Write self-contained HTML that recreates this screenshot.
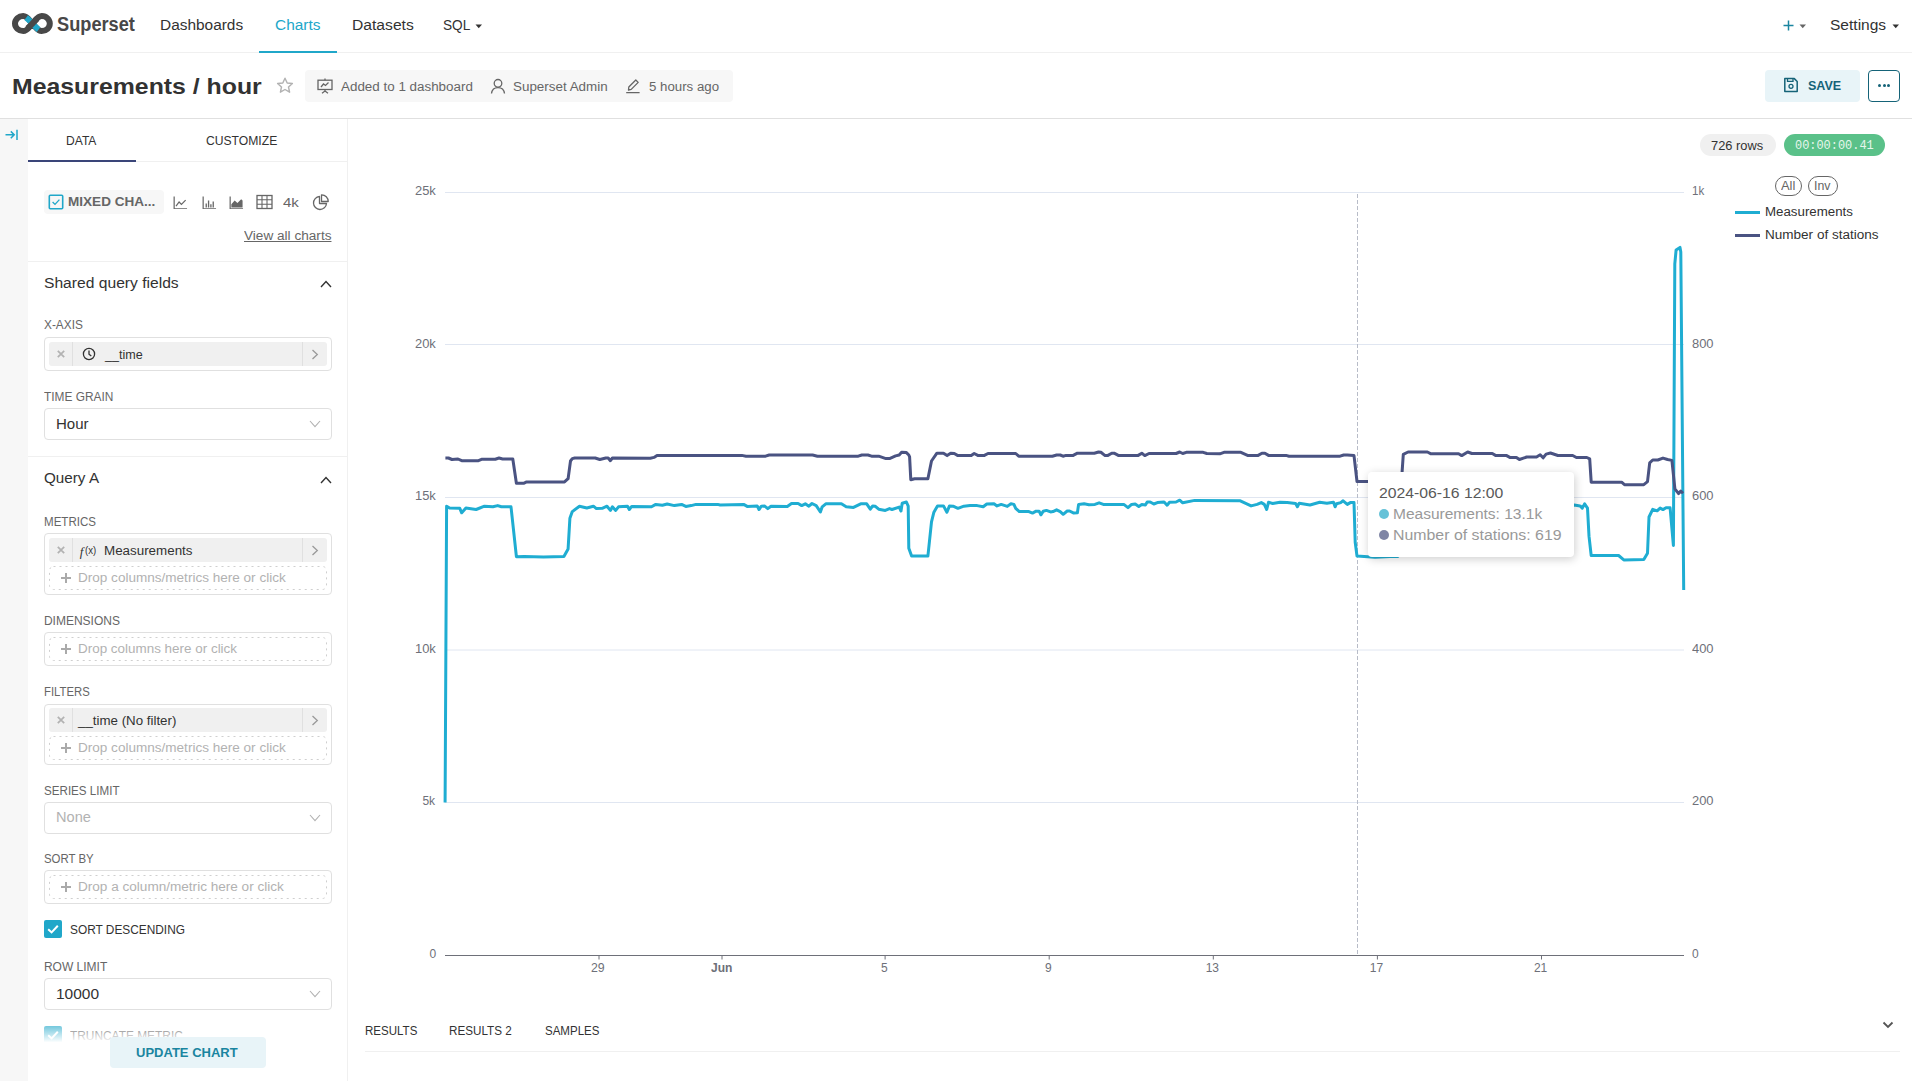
<!DOCTYPE html>
<html><head><meta charset="utf-8"><style>
html,body{margin:0;padding:0;background:#fff;width:1912px;height:1081px;overflow:hidden;position:relative}
.t{position:absolute;white-space:nowrap;font-family:"Liberation Sans",sans-serif}
.r{position:absolute}
</style></head><body>
<div class="r" style="left:0px;top:52px;width:1912px;height:1px;background:#f0f0f0"></div>
<svg class="r" style="left:0;top:0" width="60" height="40" viewBox="0 0 60 40">
<path d="M32.4 23.6 C29.6 20.6 27 16.1 23.2 16.1 C18.6 16.1 15 19.5 15 23.6 C15 27.7 18.6 31.1 23.2 31.1 C27 31.1 29.6 26.6 32.4 23.6 C35.2 20.6 37.8 16.1 41.8 16.1 C46.4 16.1 49.8 19.5 49.8 23.6 C49.8 27.7 46.4 31.1 41.8 31.1 C37.8 31.1 35.2 26.6 32.4 23.6 Z" fill="none" stroke="#484848" stroke-width="6"/>
<path d="M26.2 17.6 C28.6 19.4 30.4 21.4 32.4 23.6 C34.4 25.8 36.2 27.8 38.6 29.6" fill="none" stroke="#20a7c9" stroke-width="6"/>
<path d="M27.6 28.4 C29.4 26.6 30.8 25.1 32.4 23.6 C34 21.8 35.4 20.3 37.2 18.6" fill="none" stroke="#484848" stroke-width="6"/>
</svg>
<div class="t" style="left:57.1px;top:14.0px;font-size:20px;line-height:20px;color:#484848;font-weight:700;letter-spacing:0.00px;font-family:'Liberation Sans', sans-serif;transform:scaleX(0.9105);transform-origin:0 0;">Superset</div>
<div class="t" style="left:159.8px;top:18.3px;font-size:14px;line-height:14px;color:#323232;font-weight:400;letter-spacing:0.00px;font-family:'Liberation Sans', sans-serif;transform:scaleX(1.1013);transform-origin:0 0;">Dashboards</div>
<div class="t" style="left:274.8px;top:18.3px;font-size:14px;line-height:14px;color:#20a7c9;font-weight:400;letter-spacing:0.00px;font-family:'Liberation Sans', sans-serif;transform:scaleX(1.1024);transform-origin:0 0;">Charts</div>
<div class="r" style="left:259px;top:51px;width:78px;height:2px;background:#20a7c9"></div>
<div class="t" style="left:352.4px;top:18.3px;font-size:14px;line-height:14px;color:#323232;font-weight:400;letter-spacing:0.00px;font-family:'Liberation Sans', sans-serif;transform:scaleX(1.1182);transform-origin:0 0;">Datasets</div>
<div class="t" style="left:442.8px;top:18.3px;font-size:14px;line-height:14px;color:#323232;font-weight:400;letter-spacing:0.00px;font-family:'Liberation Sans', sans-serif;transform:scaleX(0.9750);transform-origin:0 0;">SQL</div>
<svg class="r" style="left:475px;top:24px" width="8" height="5"><path d="M0.5 0.5 L7 0.5 L3.75 4.2 Z" fill="#323232"/></svg>
<svg class="r" style="left:1783px;top:20px" width="11" height="11"><path d="M5.5 0.5 V10.5 M0.5 5.5 H10.5" stroke="#1a85a0" stroke-width="1.5"/></svg>
<svg class="r" style="left:1799px;top:24px" width="8" height="5"><path d="M0.5 0.5 L7 0.5 L3.75 4.2 Z" fill="#666"/></svg>
<div class="t" style="left:1830.1px;top:18.3px;font-size:14px;line-height:14px;color:#323232;font-weight:400;letter-spacing:0.00px;font-family:'Liberation Sans', sans-serif;transform:scaleX(1.1098);transform-origin:0 0;">Settings</div>
<svg class="r" style="left:1892px;top:24px" width="8" height="5"><path d="M0.5 0.5 L7 0.5 L3.75 4.2 Z" fill="#323232"/></svg>
<div class="r" style="left:0px;top:118px;width:1912px;height:1px;background:#e0e0e0"></div>
<div class="t" style="left:12.4px;top:76.3px;font-size:22px;line-height:22px;color:#323232;font-weight:700;letter-spacing:0.00px;font-family:'Liberation Sans', sans-serif;transform:scaleX(1.1288);transform-origin:0 0;">Measurements / hour</div>
<svg class="r" style="left:276px;top:77px" width="18" height="17" viewBox="0 0 18 17"><path d="M9 1.2 L11.2 6 L16.4 6.5 L12.5 10 L13.6 15.2 L9 12.5 L4.4 15.2 L5.5 10 L1.6 6.5 L6.8 6 Z" fill="none" stroke="#b2b2b2" stroke-width="1.4" stroke-linejoin="round"/></svg>
<div class="r" style="left:305px;top:70px;width:428px;height:32px;background:#f7f7f7;border-radius:4px"></div>
<svg class="r" style="left:317px;top:78px" width="16" height="16" viewBox="0 0 16 16"><rect x="1" y="2.2" width="14" height="9.3" fill="none" stroke="#666" stroke-width="1.3"/><path d="M8 0.5 V2.2 M8 11.5 V13 M5 15.3 L8 13 L11 15.3 M4 9 L6.5 6 L8.5 7.5 L11.5 4.5" fill="none" stroke="#666" stroke-width="1.3"/></svg>
<div class="t" style="left:340.8px;top:80.7px;font-size:12px;line-height:12px;color:#666666;font-weight:400;letter-spacing:0.00px;font-family:'Liberation Sans', sans-serif;transform:scaleX(1.1169);transform-origin:0 0;">Added to 1 dashboard</div>
<svg class="r" style="left:490px;top:78px" width="16" height="16" viewBox="0 0 16 16"><circle cx="8" cy="5.3" r="3.8" fill="none" stroke="#666" stroke-width="1.3"/><path d="M1.5 15.5 C2 11.5 4.5 9.6 8 9.6 C11.5 9.6 14 11.5 14.5 15.5" fill="none" stroke="#666" stroke-width="1.3"/></svg>
<div class="t" style="left:513.4px;top:80.7px;font-size:12px;line-height:12px;color:#666666;font-weight:400;letter-spacing:0.00px;font-family:'Liberation Sans', sans-serif;transform:scaleX(1.1176);transform-origin:0 0;">Superset Admin</div>
<svg class="r" style="left:625px;top:78px" width="16" height="16" viewBox="0 0 16 16"><path d="M3.5 12 L3.8 9 L10.8 2 L13.2 4.4 L6.2 11.4 Z M1.2 14.6 H14.6" fill="none" stroke="#666" stroke-width="1.3" stroke-linejoin="round"/></svg>
<div class="t" style="left:649.0px;top:80.7px;font-size:12px;line-height:12px;color:#666666;font-weight:400;letter-spacing:0.00px;font-family:'Liberation Sans', sans-serif;transform:scaleX(1.1047);transform-origin:0 0;">5 hours ago</div>
<div class="r" style="left:1765px;top:70px;width:95px;height:32px;background:#e8f4f8;border-radius:4px"></div>
<svg class="r" style="left:1783px;top:77px" width="16" height="16" viewBox="0 0 16 16"><path d="M1.8 1.6 H11.3 L14.2 4.5 V14.4 H1.8 Z" fill="none" stroke="#156378" stroke-width="1.5" stroke-linejoin="round"/><path d="M4.5 1.6 V4.3 H10 V1.6" fill="none" stroke="#156378" stroke-width="1.3"/><circle cx="8" cy="9.3" r="2" fill="none" stroke="#156378" stroke-width="1.3"/></svg>
<div class="t" style="left:1807.5px;top:79.7px;font-size:12px;line-height:12px;color:#156378;font-weight:700;letter-spacing:0.00px;font-family:'Liberation Sans', sans-serif;transform:scaleX(1.0437);transform-origin:0 0;">SAVE</div>
<div class="r" style="left:1868px;top:70px;width:32px;height:32px;border:1px solid #156378;border-radius:4px;box-sizing:border-box"></div>
<div class="r" style="left:1877.7px;top:84.4px;width:3px;height:3px;border-radius:50%;background:#156378"></div>
<div class="r" style="left:1882.5px;top:84.4px;width:3px;height:3px;border-radius:50%;background:#156378"></div>
<div class="r" style="left:1887.4px;top:84.4px;width:3px;height:3px;border-radius:50%;background:#156378"></div>
<div class="r" style="left:0px;top:119px;width:28px;height:962px;background:#f7f7f7"></div>
<svg class="r" style="left:5px;top:129px" width="14" height="12" viewBox="0 0 14 12"><path d="M0.5 5.8 H9 M5.8 2.4 L9.2 5.8 L5.8 9.2 M12 0.8 V11" fill="none" stroke="#20a7c9" stroke-width="1.5"/></svg>
<div class="r" style="left:347px;top:119px;width:1px;height:962px;background:#f0f0f0"></div>
<div class="t" style="left:66.2px;top:135.0px;font-size:12px;line-height:12px;color:#323232;font-weight:400;letter-spacing:0.00px;font-family:'Liberation Sans', sans-serif;transform:scaleX(1.0067);transform-origin:0 0;">DATA</div>
<div class="t" style="left:205.9px;top:135.0px;font-size:12px;line-height:12px;color:#323232;font-weight:400;letter-spacing:0.00px;font-family:'Liberation Sans', sans-serif;transform:scaleX(1.0114);transform-origin:0 0;">CUSTOMIZE</div>
<div class="r" style="left:28px;top:161px;width:319px;height:1px;background:#f0f0f0"></div>
<div class="r" style="left:28px;top:160px;width:108px;height:2px;background:#3a4579"></div>
<div class="r" style="left:44px;top:190px;width:120px;height:24px;background:#f7f7f7;border-radius:4px"></div>
<svg class="r" style="left:48px;top:194px" width="16" height="16" viewBox="0 0 16 16"><rect x="1.3" y="1.3" width="13.4" height="13.4" rx="1" fill="none" stroke="#20a7c9" stroke-width="1.6"/><path d="M4.6 8 L7 10.4 L11.4 5.6" fill="none" stroke="#20a7c9" stroke-width="1.3"/></svg>
<div class="t" style="left:68.0px;top:195.8px;font-size:12px;line-height:12px;color:#666666;font-weight:700;letter-spacing:0.00px;font-family:'Liberation Sans', sans-serif;transform:scaleX(1.1299);transform-origin:0 0;">MIXED CHA...</div>
<svg class="r" style="left:172.5px;top:195px" width="15" height="14" viewBox="0 0 16 15"><path d="M1.2 1.5 V14.8 H15 M3.2 12 L6.5 7.5 L9 10 L13.5 5.5" fill="none" stroke="#666" stroke-width="1.3"/></svg>
<svg class="r" style="left:201.5px;top:195px" width="15" height="14" viewBox="0 0 16 15"><path d="M1.2 1.5 V14.8 H15" fill="none" stroke="#666" stroke-width="1.3"/><path d="M4.5 9 V13.5 M7 6 V13.5 M9.5 10 V13.5 M12 7 V13.5" stroke="#666" stroke-width="1.4"/></svg>
<svg class="r" style="left:228.5px;top:195px" width="15" height="14" viewBox="0 0 16 15"><path d="M1.2 1.5 V14.8 H15" fill="none" stroke="#666" stroke-width="1.3"/><path d="M2.5 13.5 V10 L6 6 L9 8.5 L13 4.5 L14.5 6 V13.5 Z" fill="#666"/></svg>
<svg class="r" style="left:256px;top:194px" width="17" height="16" viewBox="0 0 17 16"><rect x="1" y="1.5" width="15" height="13" fill="none" stroke="#666" stroke-width="1.3"/><path d="M1 5.8 H16 M1 10.2 H16 M6 1.5 V14.5 M11 1.5 V14.5" stroke="#666" stroke-width="1.1"/></svg>
<div class="t" style="left:283.4px;top:195.8px;font-size:13px;line-height:13px;color:#666666;font-weight:400;letter-spacing:0.00px;font-family:'Liberation Sans', sans-serif;transform:scaleX(1.1571);transform-origin:0 0;">4k</div>
<svg class="r" style="left:312px;top:194px" width="17" height="17" viewBox="0 0 17 17"><path d="M7.5 2.5 A6.5 6.5 0 1 0 14.5 9.5 H7.5 Z" fill="none" stroke="#666" stroke-width="1.3" stroke-linejoin="round"/><path d="M9.5 0.8 A6.5 6.5 0 0 1 16.2 7.5 H9.5 Z" fill="none" stroke="#666" stroke-width="1.3" stroke-linejoin="round"/></svg>
<div class="t" style="left:243.8px;top:230.2px;font-size:12px;line-height:12px;color:#666666;font-weight:400;letter-spacing:0.00px;font-family:'Liberation Sans', sans-serif;transform:scaleX(1.1338);transform-origin:0 0;text-decoration:underline;text-underline-offset:1px">View all charts</div>
<div class="r" style="left:28px;top:261px;width:319px;height:1px;background:#f0f0f0"></div>
<div class="t" style="left:43.7px;top:276.1px;font-size:14px;line-height:14px;color:#323232;font-weight:400;letter-spacing:0.00px;font-family:'Liberation Sans', sans-serif;transform:scaleX(1.1165);transform-origin:0 0;">Shared query fields</div>
<svg class="r" style="left:320px;top:280px" width="12" height="8" viewBox="0 0 12 8"><path d="M1 7 L6 1.6 L11 7" fill="none" stroke="#323232" stroke-width="1.4"/></svg>
<div class="t" style="left:43.9px;top:319.4px;font-size:12px;line-height:12px;color:#666666;font-weight:400;letter-spacing:0.00px;font-family:'Liberation Sans', sans-serif;transform:scaleX(0.9872);transform-origin:0 0;">X-AXIS</div>
<div class="r" style="left:44px;top:337px;width:288px;height:34px;border:1px solid #e0e0e0;border-radius:4px;box-sizing:border-box;background:#fff"></div>
<div class="r" style="left:49px;top:342px;width:278px;height:24px;background:#f0f0f0;border-radius:3px"></div>
<div class="r" style="left:72px;top:342px;width:1px;height:24px;background:#e0e0e0"></div>
<div class="r" style="left:302px;top:342px;width:1px;height:24px;background:#e0e0e0"></div>
<svg class="r" style="left:56px;top:349.0px" width="10" height="10" viewBox="0 0 10 10"><path d="M1.8 1.8 L8.2 8.2 M8.2 1.8 L1.8 8.2" stroke="#b2b2b2" stroke-width="1.7"/></svg>
<svg class="r" style="left:311px;top:348.5px" width="8" height="11" viewBox="0 0 8 11"><path d="M1.5 1 L6.3 5.5 L1.5 10" fill="none" stroke="#999" stroke-width="1.3"/></svg>
<div class="t" style="left:105.4px;top:348.8px;font-size:12px;line-height:12px;color:#323232;font-weight:400;letter-spacing:0.00px;font-family:'Liberation Sans', sans-serif;transform:scaleX(1.0459);transform-origin:0 0;">__time</div>
<svg class="r" style="left:82px;top:347px" width="14" height="14" viewBox="0 0 14 14"><circle cx="7" cy="7" r="5.6" fill="none" stroke="#323232" stroke-width="1.3"/><path d="M7 3.6 V7.2 L9.3 9" fill="none" stroke="#323232" stroke-width="1.3"/></svg>
<div class="t" style="left:43.9px;top:391.2px;font-size:12px;line-height:12px;color:#666666;font-weight:400;letter-spacing:0.00px;font-family:'Liberation Sans', sans-serif;transform:scaleX(0.9914);transform-origin:0 0;">TIME GRAIN</div>
<div class="r" style="left:44px;top:408px;width:288px;height:32px;border:1px solid #e0e0e0;border-radius:4px;box-sizing:border-box;background:#fff"></div>
<div class="t" style="left:55.8px;top:417.2px;font-size:14px;line-height:14px;color:#323232;font-weight:400;letter-spacing:0.00px;font-family:'Liberation Sans', sans-serif;transform:scaleX(1.0742);transform-origin:0 0;">Hour</div>
<svg class="r" style="left:309px;top:420px" width="12" height="8" viewBox="0 0 12 8"><path d="M1 1 L6 6.6 L11 1" fill="none" stroke="#b2b2b2" stroke-width="1.1"/></svg>
<div class="r" style="left:28px;top:456px;width:319px;height:1px;background:#f0f0f0"></div>
<div class="t" style="left:43.8px;top:471.2px;font-size:14px;line-height:14px;color:#323232;font-weight:400;letter-spacing:0.00px;font-family:'Liberation Sans', sans-serif;transform:scaleX(1.0882);transform-origin:0 0;">Query A</div>
<svg class="r" style="left:320px;top:476px" width="12" height="8" viewBox="0 0 12 8"><path d="M1 7 L6 1.6 L11 7" fill="none" stroke="#323232" stroke-width="1.4"/></svg>
<div class="t" style="left:43.9px;top:515.7px;font-size:12px;line-height:12px;color:#666666;font-weight:400;letter-spacing:0.00px;font-family:'Liberation Sans', sans-serif;transform:scaleX(0.9630);transform-origin:0 0;">METRICS</div>
<div class="r" style="left:44px;top:533px;width:288px;height:62px;border:1px solid #e0e0e0;border-radius:4px;box-sizing:border-box;background:#fff"></div>
<div class="r" style="left:49px;top:538px;width:278px;height:24px;background:#f0f0f0;border-radius:3px"></div>
<div class="r" style="left:72px;top:538px;width:1px;height:24px;background:#e0e0e0"></div>
<div class="r" style="left:302px;top:538px;width:1px;height:24px;background:#e0e0e0"></div>
<svg class="r" style="left:56px;top:545.0px" width="10" height="10" viewBox="0 0 10 10"><path d="M1.8 1.8 L8.2 8.2 M8.2 1.8 L1.8 8.2" stroke="#b2b2b2" stroke-width="1.7"/></svg>
<svg class="r" style="left:311px;top:544.5px" width="8" height="11" viewBox="0 0 8 11"><path d="M1.5 1 L6.3 5.5 L1.5 10" fill="none" stroke="#999" stroke-width="1.3"/></svg>
<div class="t" style="left:104.4px;top:544.8px;font-size:12px;line-height:12px;color:#323232;font-weight:400;letter-spacing:0.00px;font-family:'Liberation Sans', sans-serif;transform:scaleX(1.1152);transform-origin:0 0;">Measurements</div>
<div class="t" style="left:79.7px;top:544.5px;font-size:13px;line-height:13px;color:#323232;font-weight:400;letter-spacing:0.00px;font-family:'Liberation Serif', serif;font-style:italic">f</div>
<div class="t" style="left:84.9px;top:545.5px;font-size:10px;line-height:10px;color:#323232;font-weight:400;letter-spacing:0.00px;font-family:'Liberation Sans', sans-serif;transform:scaleX(0.9583);transform-origin:0 0;">(x)</div>
<svg class="r" style="left:49px;top:566px" width="278" height="24"><rect x="0.5" y="0.5" width="277" height="23" rx="4" fill="none" stroke="#cfcfcf" stroke-width="1" stroke-dasharray="2 4"/></svg>
<svg class="r" style="left:60px;top:572px" width="12" height="12" viewBox="0 0 12 12"><path d="M6 1 V11 M1 6 H11" stroke="#aaa" stroke-width="2"/></svg>
<div class="t" style="left:77.7px;top:572.4px;font-size:12px;line-height:12px;color:#b2b2b2;font-weight:400;letter-spacing:0.00px;font-family:'Liberation Sans', sans-serif;transform:scaleX(1.1286);transform-origin:0 0;">Drop columns/metrics here or click</div>
<div class="t" style="left:43.9px;top:614.7px;font-size:12px;line-height:12px;color:#666666;font-weight:400;letter-spacing:0.00px;font-family:'Liberation Sans', sans-serif;">DIMENSIONS</div>
<div class="r" style="left:44px;top:632px;width:288px;height:34px;border:1px solid #e0e0e0;border-radius:4px;box-sizing:border-box;background:#fff"></div>
<svg class="r" style="left:49px;top:637px" width="278" height="24"><rect x="0.5" y="0.5" width="277" height="23" rx="4" fill="none" stroke="#cfcfcf" stroke-width="1" stroke-dasharray="2 4"/></svg>
<svg class="r" style="left:60px;top:643px" width="12" height="12" viewBox="0 0 12 12"><path d="M6 1 V11 M1 6 H11" stroke="#aaa" stroke-width="2"/></svg>
<div class="t" style="left:77.7px;top:643.4px;font-size:12px;line-height:12px;color:#b2b2b2;font-weight:400;letter-spacing:0.00px;font-family:'Liberation Sans', sans-serif;transform:scaleX(1.1196);transform-origin:0 0;">Drop columns here or click</div>
<div class="t" style="left:43.9px;top:685.8px;font-size:12px;line-height:12px;color:#666666;font-weight:400;letter-spacing:0.00px;font-family:'Liberation Sans', sans-serif;transform:scaleX(0.9437);transform-origin:0 0;">FILTERS</div>
<div class="r" style="left:44px;top:704px;width:288px;height:61px;border:1px solid #e0e0e0;border-radius:4px;box-sizing:border-box;background:#fff"></div>
<div class="r" style="left:49px;top:708px;width:278px;height:24px;background:#f0f0f0;border-radius:3px"></div>
<div class="r" style="left:72px;top:708px;width:1px;height:24px;background:#e0e0e0"></div>
<div class="r" style="left:302px;top:708px;width:1px;height:24px;background:#e0e0e0"></div>
<svg class="r" style="left:56px;top:715.0px" width="10" height="10" viewBox="0 0 10 10"><path d="M1.8 1.8 L8.2 8.2 M8.2 1.8 L1.8 8.2" stroke="#b2b2b2" stroke-width="1.7"/></svg>
<svg class="r" style="left:311px;top:714.5px" width="8" height="11" viewBox="0 0 8 11"><path d="M1.5 1 L6.3 5.5 L1.5 10" fill="none" stroke="#999" stroke-width="1.3"/></svg>
<div class="t" style="left:77.7px;top:714.8px;font-size:12px;line-height:12px;color:#323232;font-weight:400;letter-spacing:0.00px;font-family:'Liberation Sans', sans-serif;transform:scaleX(1.1089);transform-origin:0 0;">__time (No filter)</div>
<svg class="r" style="left:49px;top:736px" width="278" height="24"><rect x="0.5" y="0.5" width="277" height="23" rx="4" fill="none" stroke="#cfcfcf" stroke-width="1" stroke-dasharray="2 4"/></svg>
<svg class="r" style="left:60px;top:742px" width="12" height="12" viewBox="0 0 12 12"><path d="M6 1 V11 M1 6 H11" stroke="#aaa" stroke-width="2"/></svg>
<div class="t" style="left:77.7px;top:742.4px;font-size:12px;line-height:12px;color:#b2b2b2;font-weight:400;letter-spacing:0.00px;font-family:'Liberation Sans', sans-serif;transform:scaleX(1.1286);transform-origin:0 0;">Drop columns/metrics here or click</div>
<div class="t" style="left:43.9px;top:785.1px;font-size:12px;line-height:12px;color:#666666;font-weight:400;letter-spacing:0.00px;font-family:'Liberation Sans', sans-serif;transform:scaleX(0.9684);transform-origin:0 0;">SERIES LIMIT</div>
<div class="r" style="left:44px;top:802px;width:288px;height:32px;border:1px solid #e0e0e0;border-radius:4px;box-sizing:border-box;background:#fff"></div>
<div class="t" style="left:55.9px;top:810.4px;font-size:14px;line-height:14px;color:#b2b2b2;font-weight:400;letter-spacing:0.00px;font-family:'Liberation Sans', sans-serif;transform:scaleX(1.0412);transform-origin:0 0;">None</div>
<svg class="r" style="left:309px;top:814px" width="12" height="8" viewBox="0 0 12 8"><path d="M1 1 L6 6.6 L11 1" fill="none" stroke="#b2b2b2" stroke-width="1.1"/></svg>
<div class="t" style="left:43.9px;top:853.3px;font-size:12px;line-height:12px;color:#666666;font-weight:400;letter-spacing:0.00px;font-family:'Liberation Sans', sans-serif;transform:scaleX(0.9519);transform-origin:0 0;">SORT BY</div>
<div class="r" style="left:44px;top:870px;width:288px;height:34px;border:1px solid #e0e0e0;border-radius:4px;box-sizing:border-box;background:#fff"></div>
<svg class="r" style="left:49px;top:875px" width="278" height="24"><rect x="0.5" y="0.5" width="277" height="23" rx="4" fill="none" stroke="#cfcfcf" stroke-width="1" stroke-dasharray="2 4"/></svg>
<svg class="r" style="left:60px;top:881px" width="12" height="12" viewBox="0 0 12 12"><path d="M6 1 V11 M1 6 H11" stroke="#aaa" stroke-width="2"/></svg>
<div class="t" style="left:77.7px;top:881.4px;font-size:12px;line-height:12px;color:#b2b2b2;font-weight:400;letter-spacing:0.00px;font-family:'Liberation Sans', sans-serif;transform:scaleX(1.1306);transform-origin:0 0;">Drop a column/metric here or click</div>
<div class="r" style="left:44px;top:920px;width:18px;height:18px;background:#20a7c9;border-radius:2px"></div>
<svg class="r" style="left:44px;top:920px" width="18" height="18" viewBox="0 0 18 18"><path d="M4.2 9.2 L7.6 12.4 L13.8 5.8" fill="none" stroke="#fff" stroke-width="2"/></svg>
<div class="t" style="left:69.9px;top:924.3px;font-size:12px;line-height:12px;color:#323232;font-weight:400;letter-spacing:0.00px;font-family:'Liberation Sans', sans-serif;transform:scaleX(0.9888);transform-origin:0 0;">SORT DESCENDING</div>
<div class="t" style="left:43.9px;top:961.4px;font-size:12px;line-height:12px;color:#666666;font-weight:400;letter-spacing:0.00px;font-family:'Liberation Sans', sans-serif;">ROW LIMIT</div>
<div class="r" style="left:44px;top:978px;width:288px;height:32px;border:1px solid #e0e0e0;border-radius:4px;box-sizing:border-box;background:#fff"></div>
<div class="t" style="left:55.9px;top:987.3px;font-size:14px;line-height:14px;color:#323232;font-weight:400;letter-spacing:0.00px;font-family:'Liberation Sans', sans-serif;transform:scaleX(1.1077);transform-origin:0 0;">10000</div>
<svg class="r" style="left:309px;top:990px" width="12" height="8" viewBox="0 0 12 8"><path d="M1 1 L6 6.6 L11 1" fill="none" stroke="#b2b2b2" stroke-width="1.1"/></svg>
<div class="r" style="left:44px;top:1026px;width:18px;height:18px;background:#20a7c9;border-radius:2px"></div>
<svg class="r" style="left:44px;top:1026px" width="18" height="18" viewBox="0 0 18 18"><path d="M4.2 9.2 L7.6 12.4 L13.8 5.8" fill="none" stroke="#fff" stroke-width="2"/></svg>
<div class="t" style="left:69.9px;top:1030.3px;font-size:12px;line-height:12px;color:#323232;font-weight:400;letter-spacing:0.00px;font-family:'Liberation Sans', sans-serif;transform:scaleX(0.9912);transform-origin:0 0;">TRUNCATE METRIC</div>
<div class="r" style="left:28px;top:1020px;width:319px;height:28px;background:linear-gradient(to bottom, rgba(255,255,255,0.15), rgba(255,255,255,1) 80%)"></div>
<div class="r" style="left:28px;top:1043px;width:319px;height:38px;background:#fff"></div>
<div class="r" style="left:110px;top:1037px;width:156px;height:31px;background:#e8f4f8;border-radius:4px"></div>
<div class="t" style="left:136.4px;top:1047.4px;font-size:12px;line-height:12px;color:#1a85a0;font-weight:700;letter-spacing:0.00px;font-family:'Liberation Sans', sans-serif;transform:scaleX(1.0840);transform-origin:0 0;">UPDATE CHART</div>
<div class="r" style="left:1700px;top:134px;width:76px;height:22px;background:#f0f0f0;border-radius:11px"></div>
<div class="t" style="left:1711.2px;top:139.6px;font-size:12px;line-height:12px;color:#323232;font-weight:400;letter-spacing:0.00px;font-family:'Liberation Sans', sans-serif;transform:scaleX(1.0714);transform-origin:0 0;">726 rows</div>
<div class="r" style="left:1784px;top:134px;width:101px;height:22px;background:#5ac189;border-radius:11px"></div>
<div class="t" style="left:1794.7px;top:139.8px;font-size:12px;line-height:12px;color:#e6f6ec;font-weight:400;letter-spacing:0.00px;font-family:'Liberation Mono', monospace;transform:scaleX(0.9937);transform-origin:0 0;">00:00:00.41</div>
<svg class="r" style="left:0;top:0" width="1912" height="1081">
<line x1="445" x2="1684" y1="802.5" y2="802.5" stroke="#e0e6f1" stroke-width="1"/>
<line x1="445" x2="1684" y1="650.0" y2="650.0" stroke="#e0e6f1" stroke-width="1"/>
<line x1="445" x2="1684" y1="497.5" y2="497.5" stroke="#e0e6f1" stroke-width="1"/>
<line x1="445" x2="1684" y1="344.5" y2="344.5" stroke="#e0e6f1" stroke-width="1"/>
<line x1="445" x2="1684" y1="192.5" y2="192.5" stroke="#e0e6f1" stroke-width="1"/>
<line x1="445" x2="1684" y1="955.5" y2="955.5" stroke="#6e7079" stroke-width="1"/>
<line x1="599" x2="599" y1="955.5" y2="959.5" stroke="#6e7079" stroke-width="1"/>
<line x1="722" x2="722" y1="955.5" y2="959.5" stroke="#6e7079" stroke-width="1"/>
<line x1="885.1" x2="885.1" y1="955.5" y2="959.5" stroke="#6e7079" stroke-width="1"/>
<line x1="1049.2" x2="1049.2" y1="955.5" y2="959.5" stroke="#6e7079" stroke-width="1"/>
<line x1="1213.3" x2="1213.3" y1="955.5" y2="959.5" stroke="#6e7079" stroke-width="1"/>
<line x1="1377.4" x2="1377.4" y1="955.5" y2="959.5" stroke="#6e7079" stroke-width="1"/>
<line x1="1541.5" x2="1541.5" y1="955.5" y2="959.5" stroke="#6e7079" stroke-width="1"/>
<line x1="1357.5" x2="1357.5" y1="194" y2="955" stroke="#b8bcc8" stroke-width="1" stroke-dasharray="4 2"/>
<polyline points="445.1,802.5 446.6,506.2 449.6,508.0 459.8,508.3 461.7,512.8 465.9,508.0 476.1,509.5 484.5,506.2 492.9,506.8 497.7,505.6 501.4,506.8 511.0,506.8 516.4,556.7 524.2,556.4 543.5,556.9 563.9,556.4 568.1,548.9 569.9,518.2 572.3,511.6 579.5,506.2 586.8,508.0 593.4,506.2 596.4,508.6 602.2,508.3 607.0,506.2 610.4,510.4 612.4,506.8 615.7,510.4 618.5,506.8 627.5,506.2 629.3,509.5 631.7,506.4 651.5,506.8 655.8,504.4 662.4,505.2 667.2,504.0 674.4,505.6 681.6,504.4 685.8,506.4 691.2,505.6 696.0,504.4 717.7,504.4 720.1,505.0 743.6,504.4 747.2,506.4 757.2,505.9 759.0,509.5 761.4,506.2 764.4,505.9 767.8,508.6 771.0,506.2 787.3,506.4 791.5,503.5 798.1,503.5 801.7,505.6 805.3,503.8 808.9,506.2 812.0,503.5 816.2,505.6 820.4,511.9 822.2,506.8 825.8,503.8 841.4,503.8 846.2,506.8 853.5,507.4 860.7,503.8 866.7,503.8 870.3,509.2 872.7,505.9 875.1,506.2 878.7,509.2 885.3,510.4 889.5,508.6 892.0,509.5 899.2,507.1 901.0,511.0 902.2,503.2 906.4,502.0 908.2,506.2 908.8,548.3 911.6,556.1 927.9,556.1 931.5,521.8 933.9,512.2 937.5,505.9 943.5,505.9 946.9,512.2 949.5,505.9 953.1,506.2 957.9,508.3 963.9,506.2 970.0,505.6 977.2,505.6 983.2,506.8 986.8,504.0 994.0,503.8 997.0,505.9 1001.2,504.4 1007.3,506.4 1010.9,503.8 1013.9,504.4 1015.7,508.3 1019.3,511.6 1028.9,511.6 1032.5,513.1 1036.1,511.2 1039.1,511.2 1040.9,514.8 1043.3,511.2 1046.4,510.4 1050.6,511.9 1053.0,511.6 1056.6,509.8 1060.2,511.6 1063.2,514.3 1067.2,511.0 1069.6,511.0 1073.8,513.1 1077.4,512.8 1078.6,504.4 1084.1,503.8 1088.9,504.7 1094.9,504.4 1099.1,502.8 1103.3,504.4 1123.8,504.4 1128.0,507.6 1131.6,504.4 1135.2,504.0 1138.8,506.4 1141.8,504.4 1145.4,505.0 1147.2,502.0 1150.2,502.0 1153.8,504.0 1157.4,502.6 1164.1,502.0 1167.1,505.2 1169.5,502.3 1176.1,502.0 1179.7,500.2 1182.7,502.8 1194.7,500.4 1240.3,500.8 1251.1,505.9 1257.1,504.4 1261.3,502.6 1264.3,504.4 1266.7,509.5 1268.5,502.3 1272.7,503.5 1280.0,502.3 1287.2,502.6 1295.6,503.5 1297.4,506.8 1299.2,503.2 1310.0,505.0 1319.7,502.3 1326.9,503.2 1333.5,502.3 1335.1,506.8 1336.5,503.8 1340.7,502.6 1343.1,500.8 1347.3,504.4 1350.3,502.6 1354.0,502.6 1355.2,542.3 1357.0,556.1 1375.0,557.3 1390.0,556.5 1398.0,556.5 1402.0,540.0 1405.0,508.0 1420.0,506.0 1450.0,506.0 1500.0,506.0 1540.0,506.0 1574.2,505.1 1580.1,505.9 1582.3,508.1 1584.6,503.9 1587.5,508.1 1589.0,536.2 1591.2,555.5 1618.6,555.5 1623.8,559.9 1643.8,559.6 1647.5,553.2 1649.0,517.0 1652.7,509.3 1657.1,510.8 1660.1,508.1 1663.0,509.6 1666.0,507.8 1670.1,507.8 1673.4,545.4 1674.8,263.9 1676.1,250.0 1680.0,247.4 1680.8,252.0 1683.7,590.0" fill="none" stroke="#1fadd2" stroke-width="3" stroke-linejoin="round"/>
<polyline points="445.4,458.0 448.4,458.0 452.0,459.5 458.0,459.0 461.7,460.7 478.5,460.7 482.1,459.2 495.3,459.2 499.0,458.0 502.6,459.0 512.8,459.0 516.4,483.3 523.6,483.3 526.6,481.9 564.5,481.9 568.1,478.7 570.5,461.0 572.3,458.6 574.7,458.0 595.2,458.0 599.8,459.5 605.8,458.0 608.2,458.0 610.4,460.7 612.4,458.0 650.3,458.3 654.0,457.4 657.0,455.4 741.8,455.4 746.0,456.2 765.6,456.2 769.2,455.0 812.6,455.0 817.4,456.2 858.3,456.2 861.9,455.0 867.9,455.0 871.5,456.2 878.7,456.2 885.9,458.6 889.5,458.6 895.6,455.9 899.2,455.0 901.6,452.3 906.4,452.6 908.8,455.0 909.6,456.8 910.8,479.7 914.6,478.7 927.9,478.7 931.5,461.0 936.9,453.2 943.5,453.2 947.1,455.6 950.7,453.2 954.3,453.5 957.9,455.6 971.2,455.6 974.2,453.5 977.8,455.4 984.4,455.4 988.0,453.5 1015.7,453.5 1018.7,456.2 1052.4,456.2 1056.6,455.0 1060.2,455.0 1063.0,456.2 1066.0,455.4 1073.2,455.4 1077.4,453.2 1094.3,453.2 1098.5,452.0 1100.9,452.3 1105.1,455.6 1107.5,455.6 1111.7,453.2 1114.1,453.2 1118.3,455.4 1138.2,455.4 1141.8,453.2 1144.8,455.6 1149.0,453.5 1176.1,453.5 1179.7,452.0 1182.7,453.5 1186.3,452.3 1203.2,452.3 1206.8,453.5 1219.8,453.8 1224.0,452.3 1240.9,452.3 1248.1,455.6 1257.7,455.6 1261.9,453.2 1264.9,453.2 1268.5,455.4 1286.0,455.4 1289.0,456.2 1340.1,456.2 1343.7,455.0 1347.3,455.0 1354.0,455.6 1357.0,481.5 1380.0,481.5 1400.0,481.5 1402.1,471.9 1403.3,454.4 1408.1,452.0 1427.4,452.0 1431.0,453.8 1458.6,453.8 1461.7,455.6 1467.7,452.0 1471.9,453.5 1492.3,453.5 1495.9,455.6 1506.2,455.4 1509.8,457.4 1516.4,457.4 1519.4,459.5 1526.8,457.0 1536.5,457.0 1540.2,454.8 1543.1,457.8 1546.1,454.1 1550.5,453.0 1557.9,455.5 1572.7,455.5 1576.4,457.5 1586.8,457.5 1589.7,458.9 1591.2,482.2 1621.6,482.2 1624.5,484.7 1643.8,484.7 1647.5,481.7 1649.7,462.9 1652.7,460.0 1657.8,460.0 1663.0,458.1 1667.5,459.5 1671.9,460.4 1674.9,488.8 1678.6,493.6 1680.8,491.1 1683.0,493.3" fill="none" stroke="#4a5382" stroke-width="3" stroke-linejoin="round"/>
</svg>
<div class="t" style="left:414.9px;top:185.2px;font-size:12px;line-height:12px;color:#6e7079;font-weight:400;letter-spacing:0.00px;font-family:'Liberation Sans', sans-serif;transform:scaleX(1.0750);transform-origin:0 0;">25k</div>
<div class="t" style="left:414.9px;top:337.7px;font-size:12px;line-height:12px;color:#6e7079;font-weight:400;letter-spacing:0.00px;font-family:'Liberation Sans', sans-serif;transform:scaleX(1.0750);transform-origin:0 0;">20k</div>
<div class="t" style="left:414.9px;top:490.2px;font-size:12px;line-height:12px;color:#6e7079;font-weight:400;letter-spacing:0.00px;font-family:'Liberation Sans', sans-serif;transform:scaleX(1.0750);transform-origin:0 0;">15k</div>
<div class="t" style="left:414.9px;top:642.7px;font-size:12px;line-height:12px;color:#6e7079;font-weight:400;letter-spacing:0.00px;font-family:'Liberation Sans', sans-serif;transform:scaleX(1.0750);transform-origin:0 0;">10k</div>
<div class="t" style="left:422.4px;top:795.2px;font-size:12px;line-height:12px;color:#6e7079;font-weight:400;letter-spacing:0.00px;font-family:'Liberation Sans', sans-serif;">5k</div>
<div class="t" style="left:429.4px;top:947.8px;font-size:12px;line-height:12px;color:#6e7079;font-weight:400;letter-spacing:0.00px;font-family:'Liberation Sans', sans-serif;">0</div>
<div class="t" style="left:1691.9px;top:185.2px;font-size:12px;line-height:12px;color:#6e7079;font-weight:400;letter-spacing:0.00px;font-family:'Liberation Sans', sans-serif;transform:scaleX(0.9643);transform-origin:0 0;">1k</div>
<div class="t" style="left:1691.9px;top:337.7px;font-size:12px;line-height:12px;color:#6e7079;font-weight:400;letter-spacing:0.00px;font-family:'Liberation Sans', sans-serif;transform:scaleX(1.0750);transform-origin:0 0;">800</div>
<div class="t" style="left:1691.9px;top:490.2px;font-size:12px;line-height:12px;color:#6e7079;font-weight:400;letter-spacing:0.00px;font-family:'Liberation Sans', sans-serif;transform:scaleX(1.0750);transform-origin:0 0;">600</div>
<div class="t" style="left:1691.9px;top:642.7px;font-size:12px;line-height:12px;color:#6e7079;font-weight:400;letter-spacing:0.00px;font-family:'Liberation Sans', sans-serif;transform:scaleX(1.0750);transform-origin:0 0;">400</div>
<div class="t" style="left:1691.9px;top:795.2px;font-size:12px;line-height:12px;color:#6e7079;font-weight:400;letter-spacing:0.00px;font-family:'Liberation Sans', sans-serif;transform:scaleX(1.0750);transform-origin:0 0;">200</div>
<div class="t" style="left:1691.9px;top:947.8px;font-size:12px;line-height:12px;color:#6e7079;font-weight:400;letter-spacing:0.00px;font-family:'Liberation Sans', sans-serif;">0</div>
<div class="t" style="left:591.2px;top:961.6px;font-size:12px;line-height:12px;color:#6e7079;font-weight:400;letter-spacing:0.00px;font-family:'Liberation Sans', sans-serif;transform:scaleX(1.0286);transform-origin:0 0;">29</div>
<div class="t" style="left:710.9px;top:961.6px;font-size:12px;line-height:12px;color:#6e7079;font-weight:700;letter-spacing:0.00px;font-family:'Liberation Sans', sans-serif;transform:scaleX(1.0048);transform-origin:0 0;">Jun</div>
<div class="t" style="left:881.0px;top:961.6px;font-size:12px;line-height:12px;color:#6e7079;font-weight:400;letter-spacing:0.00px;font-family:'Liberation Sans', sans-serif;">5</div>
<div class="t" style="left:1045.1px;top:961.6px;font-size:12px;line-height:12px;color:#6e7079;font-weight:400;letter-spacing:0.00px;font-family:'Liberation Sans', sans-serif;">9</div>
<div class="t" style="left:1205.7px;top:961.6px;font-size:12px;line-height:12px;color:#6e7079;font-weight:400;letter-spacing:0.00px;font-family:'Liberation Sans', sans-serif;">13</div>
<div class="t" style="left:1369.8px;top:961.6px;font-size:12px;line-height:12px;color:#6e7079;font-weight:400;letter-spacing:0.00px;font-family:'Liberation Sans', sans-serif;">17</div>
<div class="t" style="left:1533.9px;top:961.6px;font-size:12px;line-height:12px;color:#6e7079;font-weight:400;letter-spacing:0.00px;font-family:'Liberation Sans', sans-serif;">21</div>
<div class="r" style="left:1775px;top:176px;width:27px;height:20px;border:1px solid #666;border-radius:10px;box-sizing:border-box"></div>
<div class="t" style="left:1781.1px;top:180.0px;font-size:12px;line-height:12px;color:#666666;font-weight:400;letter-spacing:0.00px;font-family:'Liberation Sans', sans-serif;transform:scaleX(1.0769);transform-origin:0 0;">All</div>
<div class="r" style="left:1808px;top:176px;width:30px;height:20px;border:1px solid #666;border-radius:10px;box-sizing:border-box"></div>
<div class="t" style="left:1814.2px;top:180.0px;font-size:12px;line-height:12px;color:#666666;font-weight:400;letter-spacing:0.00px;font-family:'Liberation Sans', sans-serif;transform:scaleX(1.0312);transform-origin:0 0;">Inv</div>
<div class="r" style="left:1735px;top:211px;width:25px;height:3px;background:#1fadd2"></div>
<div class="t" style="left:1765.1px;top:205.6px;font-size:12px;line-height:12px;color:#323232;font-weight:400;letter-spacing:0.00px;font-family:'Liberation Sans', sans-serif;transform:scaleX(1.1076);transform-origin:0 0;">Measurements</div>
<div class="r" style="left:1735px;top:234px;width:25px;height:3px;background:#4a5382"></div>
<div class="t" style="left:1765.1px;top:228.7px;font-size:12px;line-height:12px;color:#323232;font-weight:400;letter-spacing:0.00px;font-family:'Liberation Sans', sans-serif;transform:scaleX(1.1277);transform-origin:0 0;">Number of stations</div>
<div class="r" style="left:1368px;top:472px;width:206px;height:85px;background:#fff;border-radius:4px;box-shadow:rgba(0,0,0,0.2) 1px 2px 10px"></div>
<div class="t" style="left:1378.9px;top:486.1px;font-size:14px;line-height:14px;color:#595959;font-weight:400;letter-spacing:0.00px;font-family:'Liberation Sans', sans-serif;transform:scaleX(1.1252);transform-origin:0 0;">2024-06-16 12:00</div>
<div class="r" style="left:1379px;top:509px;width:10px;height:10px;background:#66c2d8;border-radius:50%"></div>
<div class="t" style="left:1392.8px;top:506.9px;font-size:14px;line-height:14px;color:#999999;font-weight:400;letter-spacing:0.00px;font-family:'Liberation Sans', sans-serif;transform:scaleX(1.1081);transform-origin:0 0;">Measurements: 13.1k</div>
<div class="r" style="left:1379px;top:530px;width:10px;height:10px;background:#7f85a5;border-radius:50%"></div>
<div class="t" style="left:1392.8px;top:527.7px;font-size:14px;line-height:14px;color:#999999;font-weight:400;letter-spacing:0.00px;font-family:'Liberation Sans', sans-serif;transform:scaleX(1.1342);transform-origin:0 0;">Number of stations: 619</div>
<div class="t" style="left:364.6px;top:1024.8px;font-size:12px;line-height:12px;color:#323232;font-weight:400;letter-spacing:0.00px;font-family:'Liberation Sans', sans-serif;transform:scaleX(0.9611);transform-origin:0 0;">RESULTS</div>
<div class="t" style="left:448.7px;top:1024.8px;font-size:12px;line-height:12px;color:#323232;font-weight:400;letter-spacing:0.00px;font-family:'Liberation Sans', sans-serif;transform:scaleX(0.9723);transform-origin:0 0;">RESULTS 2</div>
<div class="t" style="left:544.8px;top:1024.8px;font-size:12px;line-height:12px;color:#323232;font-weight:400;letter-spacing:0.00px;font-family:'Liberation Sans', sans-serif;transform:scaleX(0.9596);transform-origin:0 0;">SAMPLES</div>
<div class="r" style="left:365px;top:1051px;width:1535px;height:1px;background:#f0f0f0"></div>
<svg class="r" style="left:1882px;top:1021px" width="12" height="8" viewBox="0 0 12 8"><path d="M1.5 1.5 L6 6 L10.5 1.5" fill="none" stroke="#555" stroke-width="1.8"/></svg>
</body></html>
